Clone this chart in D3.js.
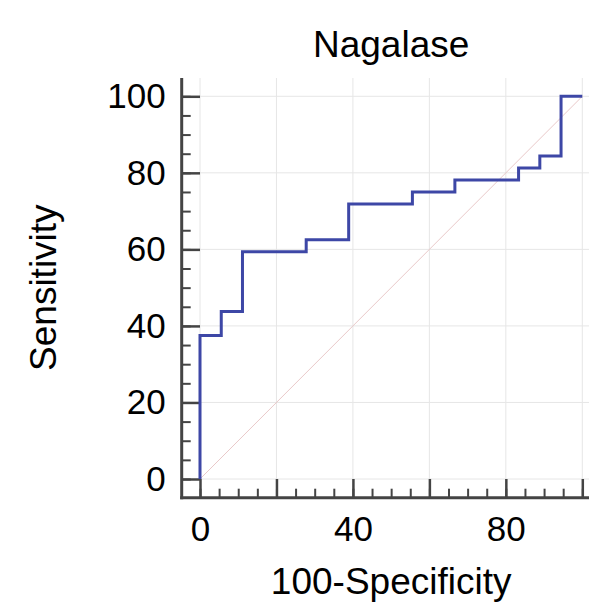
<!DOCTYPE html>
<html>
<head>
<meta charset="utf-8">
<script src="https://cdn.jsdelivr.net/npm/d3@7"></script>
<style>
    body { margin: 0; background: #fff; }
    svg { display: block; font-family: "Liberation Sans", Arial, sans-serif; }
</style>
</head>
<body>
<svg id="chart" width="589" height="605"></svg>
<script>
// ROC data for Nagalase (corner points, step goes up first then right)
const fprValues = [0, 5.56, 11.11, 27.78, 38.89, 55.56, 66.67, 83.33, 88.89, 94.44, 100];
const sensValues = [0, 37.5, 43.75, 59.38, 62.5, 71.88, 75, 78.13, 81.25, 84.38, 100];
const diagonal = [0, 100];

const majorTicks = [0, 20, 40, 60, 80, 100];
const minorTicks = d3.range(0, 101, 5);
const xLabels = [0, 40, 80];
const yLabels = [0, 20, 40, 60, 80, 100];

const title = "Nagalase";
const xTitle = "100-Specificity";
const yTitle = "Sensitivity";

const svg = d3.select("#chart");

// plot frame
const plotLeft = 200, plotRight = 582.3;
const plotTop = 96.3, plotBottom = 479;
const axisX = 181.7, axisY = 497.7;
const gridTop = 78, gridRight = 589;

const x = d3.scaleLinear().domain([0, 100]).range([plotLeft, plotRight]);
const y = d3.scaleLinear().domain([0, 100]).range([plotBottom, plotTop]);

const gridColor = "#e6e6e6";
const axisColor = "#444";

// grid
svg.append("g")
    .selectAll("line")
    .data(majorTicks)
    .join("line")
    .attr("x1", d => x(d)).attr("x2", d => x(d))
    .attr("y1", gridTop).attr("y2", plotBottom)
    .attr("stroke", gridColor).attr("stroke-width", 1);

svg.append("g")
    .selectAll("line")
    .data(majorTicks)
    .join("line")
    .attr("x1", plotLeft).attr("x2", gridRight)
    .attr("y1", d => y(d)).attr("y2", d => y(d))
    .attr("stroke", gridColor).attr("stroke-width", 1);

// reference diagonal
svg.append("line")
    .attr("x1", x(diagonal[0])).attr("y1", y(diagonal[0]))
    .attr("x2", x(diagonal[1])).attr("y2", y(diagonal[1]))
    .attr("stroke", "#e9c9c9").attr("stroke-width", 1);

// axes ticks (majors longer, minors shorter)
function styleTicks(g, width) {
    g.select(".domain").remove();
    g.selectAll(".tick line").attr("stroke", axisColor).attr("stroke-width", width);
}

svg.append("g")
    .attr("transform", `translate(${axisX},0)`)
    .call(d3.axisRight(y).tickValues(minorTicks).tickSize(9).tickFormat(""))
    .call(g => styleTicks(g, 2));
svg.append("g")
    .attr("transform", `translate(${axisX},0)`)
    .call(d3.axisRight(y).tickValues(majorTicks).tickSize(plotLeft - axisX).tickFormat(""))
    .call(g => styleTicks(g, 2.5));

svg.append("g")
    .attr("transform", `translate(0,${axisY})`)
    .call(d3.axisTop(x).tickValues(minorTicks).tickSize(9).tickFormat(""))
    .call(g => styleTicks(g, 2));
svg.append("g")
    .attr("transform", `translate(0,${axisY})`)
    .call(d3.axisTop(x).tickValues(majorTicks).tickSize(axisY - plotBottom).tickFormat(""))
    .call(g => styleTicks(g, 2.5));

// axis lines
svg.append("line")
    .attr("x1", axisX).attr("x2", axisX)
    .attr("y1", gridTop).attr("y2", axisY + 1.5)
    .attr("stroke", axisColor).attr("stroke-width", 3);
svg.append("line")
    .attr("x1", axisX - 1.5).attr("x2", gridRight)
    .attr("y1", axisY).attr("y2", axisY)
    .attr("stroke", axisColor).attr("stroke-width", 3);

// tick labels
svg.append("g")
    .attr("transform", `translate(${axisX},0)`)
    .call(d3.axisLeft(y).tickValues(yLabels).tickSize(0).tickPadding(16))
    .call(g => g.select(".domain").remove())
    .selectAll("text")
    .attr("font-size", 35).attr("font-family", "Liberation Sans, Arial, sans-serif")
    .attr("fill", "#000");

svg.append("g")
    .attr("transform", `translate(0,${axisY})`)
    .call(d3.axisBottom(x).tickValues(xLabels).tickSize(0).tickPadding(18))
    .call(g => g.select(".domain").remove())
    .selectAll("text")
    .attr("font-size", 35).attr("font-family", "Liberation Sans, Arial, sans-serif")
    .attr("fill", "#000");

// ROC curve
const rocLine = d3.line()
    .x(d => x(d[0]))
    .y(d => y(d[1]))
    .curve(d3.curveStepBefore);

svg.append("path")
    .datum(d3.zip(fprValues, sensValues))
    .attr("d", rocLine)
    .attr("fill", "none")
    .attr("stroke", "#3d47a6")
    .attr("stroke-width", 3)
    .attr("stroke-linejoin", "miter");

// titles
svg.append("text")
    .attr("x", (plotLeft + plotRight) / 2).attr("y", 57)
    .attr("text-anchor", "middle")
    .attr("font-size", 37)
    .text(title);

svg.append("text")
    .attr("x", (plotLeft + plotRight) / 2).attr("y", 594)
    .attr("text-anchor", "middle")
    .attr("font-size", 37)
    .text(xTitle);

svg.append("text")
    .attr("transform", `translate(56,${(plotTop + plotBottom) / 2}) rotate(-90)`)
    .attr("text-anchor", "middle")
    .attr("font-size", 37)
    .text(yTitle);
</script>
</body>
</html>
